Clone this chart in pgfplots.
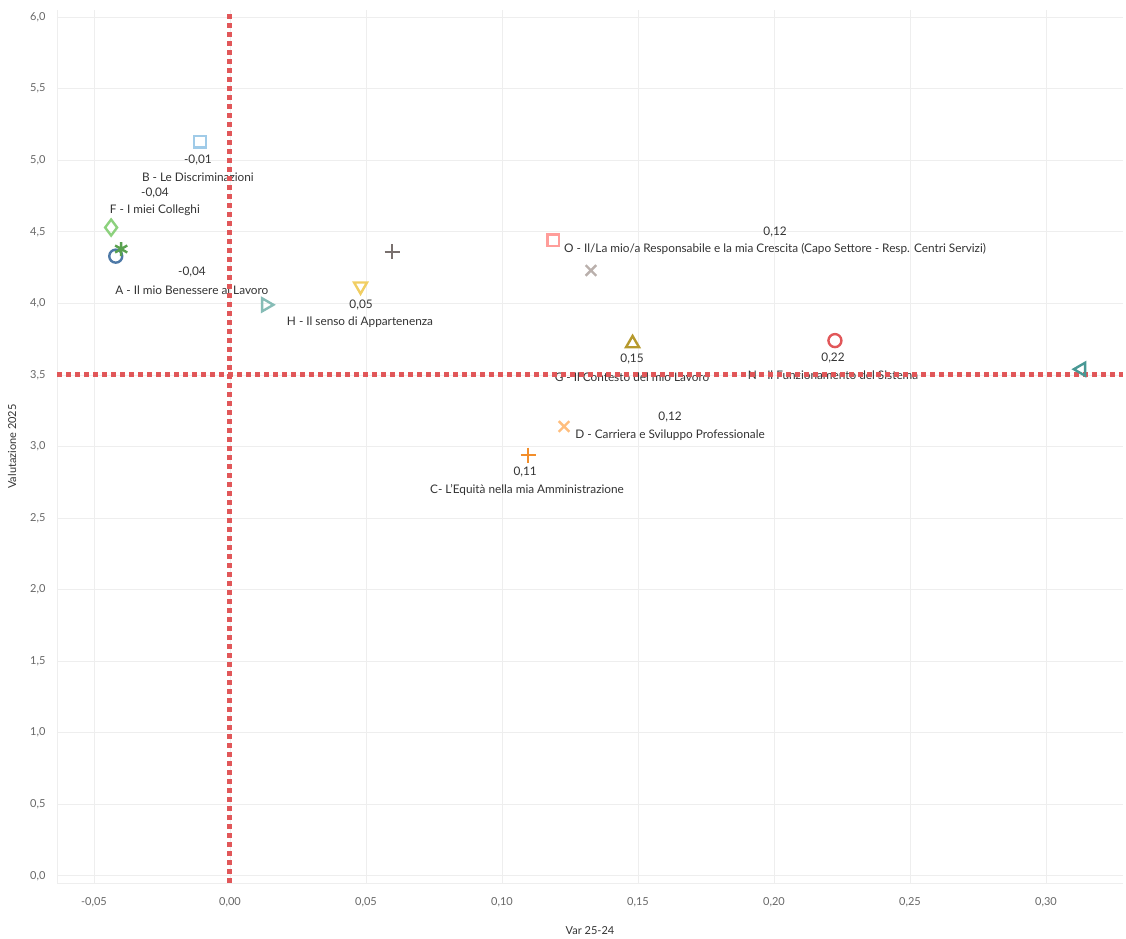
\documentclass[border=0pt]{standalone}
\usepackage{pgfplots}
\pgfplotsset{compat=1.18}
\usepackage{fontspec}
\setmainfont{Lato}
\definecolor{tblue}{HTML}{4E79A7}
\definecolor{tlblue}{HTML}{A0CBE8}
\definecolor{torange}{HTML}{F28E2B}
\definecolor{tlorange}{HTML}{FFBE7D}
\definecolor{tgreen}{HTML}{59A14F}
\definecolor{tlgreen}{HTML}{8CD17D}
\definecolor{tolive}{HTML}{B6992D}
\definecolor{tyellow}{HTML}{F1CE63}
\definecolor{tteal}{HTML}{499894}
\definecolor{tlteal}{HTML}{86BCB6}
\definecolor{tred}{HTML}{E15759}
\definecolor{tpink}{HTML}{FF9D9A}
\definecolor{tgray}{HTML}{79706E}
\definecolor{tlgray}{HTML}{BAB0AC}
\definecolor{txt}{HTML}{333333}
\definecolor{tick}{HTML}{666666}
\definecolor{gridc}{HTML}{EEEEEE}
\tikzset{lbl/.style={font=\fontsize{11.8}{14}\selectfont, text=txt, inner sep=1pt}}
\begin{document}
\begin{tikzpicture}
\useasboundingbox (0,0) rectangle (1126pt,938pt);
\begin{axis}[
  at={(57pt,55pt)}, anchor=south west,
  scale only axis, width=1066pt, height=873pt,
  xmin=-0.0636, xmax=0.3283, ymin=-0.05, ymax=6.05,
  xtick={-0.05,0,0.05,0.10,0.15,0.20,0.25,0.30},
  ytick={0,0.5,1,1.5,2,2.5,3,3.5,4,4.5,5,5.5,6},
  grid=major, major grid style={draw=gridc, line width=0.8pt},
  axis x line=bottom, axis y line=left,
  axis line style={draw=gridc, line width=0.8pt, -},
  major tick length=0pt,
  x tick label style={/pgf/number format/.cd, fixed, fixed zerofill, precision=2, use comma, /tikz/.cd, font=\fontsize{11}{13}\selectfont, text=tick, yshift=-11pt},
  y tick label style={/pgf/number format/.cd, fixed, fixed zerofill, precision=1, use comma, /tikz/.cd, font=\fontsize{11}{13}\selectfont, text=tick, xshift=-8pt},
  /pgf/number format/assume math mode=true,
  xlabel={Var 25-24}, ylabel={Valutazione 2025},
  xlabel style={at={(axis description cs:0.5,-0.054)}, anchor=center, font=\fontsize{11}{13}\selectfont, text=txt},
  ylabel style={at={(axis description cs:-0.042,0.5)}, anchor=center, font=\fontsize{11}{13}\selectfont, text=txt},
  clip=false,
  mk/.style={only marks, line width=2.4pt, mark options={solid, fill=none}},
]
% labels
\node[lbl] at (axis cs:-0.0118,5.00) {-0,01};
\node[lbl] at (axis cs:-0.0118,4.88) {B - Le Discriminazioni};
\node[lbl] at (axis cs:-0.0276,4.77) {-0,04};
\node[lbl] at (axis cs:-0.0276,4.65) {F - I miei Colleghi};
\node[lbl] at (axis cs:-0.014,4.22) {-0,04};
\node[lbl] at (axis cs:-0.014,4.095) {A - Il mio Benessere al Lavoro};
\node[lbl] at (axis cs:0.0482,3.99) {0,05};
\node[lbl] at (axis cs:0.0478,3.87) {H - Il senso di Appartenenza};
\node[lbl] at (axis cs:0.2004,4.50) {0,12};
\node[lbl] at (axis cs:0.2004,4.38) {O - Il/La mio/a Responsabile e la mia Crescita (Capo Settore - Resp. Centri Servizi)};
\node[lbl] at (axis cs:0.1478,3.61) {0,15};
\node[lbl] at (axis cs:0.1478,3.485) {G - Il Contesto del mio Lavoro};
\node[lbl] at (axis cs:0.2217,3.62) {0,22};
\node[lbl] at (axis cs:0.2217,3.495) {N - Il Funzionamento del Sistema};
\node[lbl] at (axis cs:0.1618,3.205) {0,12};
\node[lbl] at (axis cs:0.1618,3.08) {D - Carriera e Sviluppo Professionale};
\node[lbl] at (axis cs:0.1085,2.82) {0,11};
\node[lbl] at (axis cs:0.1092,2.695) {C- L'Equità nella mia Amministrazione};
% reference lines
\addplot[tred, no marks, line width=5pt, dash pattern=on 5pt off 4pt] coordinates {(0,-0.05) (0,6.05)};
\addplot[tred, no marks, line width=5pt, dash pattern=on 5pt off 4pt] coordinates {(-0.0636,3.5) (0.3283,3.5)};
% marks
\addplot[mk, tblue, mark=o, mark size=6.5pt] coordinates {(-0.042,4.33)};
\addplot[mk, tgreen, mark=asterisk, mark size=7pt] coordinates {(-0.040,4.38)};
\addplot[mk, tlblue, mark=square, mark size=5.8pt] coordinates {(-0.011,5.13)};
\addplot[mk, tlgreen, mark=diamond, mark size=8pt] coordinates {(-0.0437,4.53)};
\addplot[mk, tlteal, mark=triangle, mark size=7.5pt, mark options={rotate=-90}] coordinates {(0.0132,3.99)};
\addplot[mk, tyellow, mark=triangle, mark size=7.5pt, mark options={rotate=180}] coordinates {(0.048,4.12)};
\addplot[mk, tgray, mark=+, mark size=7.5pt] coordinates {(0.0596,4.36)};
\addplot[mk, tpink, mark=square, mark size=5.8pt] coordinates {(0.1188,4.44)};
\addplot[mk, tlgray, mark=x, mark size=7.5pt] coordinates {(0.1327,4.23)};
\addplot[mk, tolive, mark=triangle, mark size=7.5pt] coordinates {(0.148,3.72)};
\addplot[mk, tred, mark=o, mark size=6.5pt] coordinates {(0.2224,3.74)};
\addplot[mk, tteal, mark=triangle, mark size=7.5pt, mark options={rotate=90}] coordinates {(0.313,3.54)};
\addplot[mk, tlorange, mark=x, mark size=7.5pt] coordinates {(0.1228,3.14)};
\addplot[mk, torange, mark=+, mark size=7.5pt] coordinates {(0.1096,2.94)};
\end{axis}
\end{tikzpicture}
\end{document}
